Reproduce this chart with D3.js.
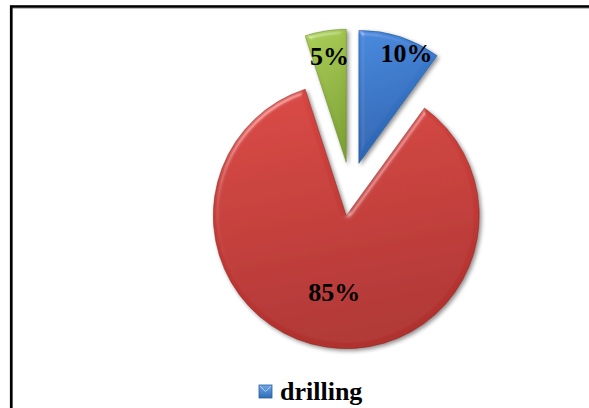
<!DOCTYPE html>
<html>
<head>
<meta charset="utf-8">
<script src="https://cdn.jsdelivr.net/npm/d3@7/dist/d3.min.js"></script>
<style>
  html, body { margin: 0; padding: 0; background: #fff; }
  svg { display: block; }
  .lbl { font-family: "Liberation Serif", "DejaVu Serif", serif; font-weight: bold; }
</style>
</head>
<body>
<script>
// Share of each activity, in percent (clockwise from 12 o'clock)
const sliceValues = [10, 85, 5];
const sliceLabels = ["10%", "85%", "5%"];
// Legend entries shown under the pie
const legendItems = ["drilling"];

const W = 589, H = 408;
const svg = d3.select("body").append("svg").attr("width", W).attr("height", H);
const defs = svg.append("defs");

// colour ramps (top light -> bottom dark) and rim colour for each slice
const ramps = [
  ["#4387dc", "#2b63b0", "#1d4a86"],
  ["#da4641", "#b0312e", "#7a2220"],
  ["#a9cc52", "#7ea233", "#5a7a22"]
];
ramps.forEach((r, i) => {
  const g = defs.append("linearGradient").attr("id", "grad" + i)
    .attr("x1", 0).attr("y1", 0).attr("x2", 0.2).attr("y2", 1);
  g.append("stop").attr("offset", "0%").attr("stop-color", r[0]);
  g.append("stop").attr("offset", "100%").attr("stop-color", r[1]);
});

// soft bevel + drop shadow
const f = defs.append("filter").attr("id", "bevel")
  .attr("x", "-20%").attr("y", "-20%").attr("width", "140%").attr("height", "140%");
f.append("feGaussianBlur").attr("in", "SourceAlpha").attr("stdDeviation", 2.5).attr("result", "blur");
const spec = f.append("feSpecularLighting").attr("in", "blur").attr("surfaceScale", 4)
  .attr("specularConstant", 0.6).attr("specularExponent", 22)
  .attr("lighting-color", "#ffffff").attr("result", "spec");
spec.append("feDistantLight").attr("azimuth", 235).attr("elevation", 30);
f.append("feComposite").attr("in", "spec").attr("in2", "SourceAlpha").attr("operator", "in").attr("result", "specIn");
f.append("feComposite").attr("in", "SourceGraphic").attr("in2", "specIn").attr("operator", "arithmetic")
  .attr("k1", 0).attr("k2", 1).attr("k3", 0.45).attr("k4", 0).attr("result", "lit");
f.append("feGaussianBlur").attr("in", "SourceAlpha").attr("stdDeviation", 2).attr("result", "sb");
f.append("feOffset").attr("in", "sb").attr("dx", 2).attr("dy", 2).attr("result", "so");
f.append("feComponentTransfer").attr("in", "so").attr("result", "shadow")
  .append("feFuncA").attr("type", "linear").attr("slope", 0.45);
const m = f.append("feMerge");
m.append("feMergeNode").attr("in", "shadow");
m.append("feMergeNode").attr("in", "lit");

// chart frame (runs past the right and bottom edges)
svg.append("rect").attr("x", 12.5).attr("y", 8.5).attr("width", 700).attr("height", 600)
  .attr("fill", "none").attr("stroke", "#bdbdbd").attr("stroke-width", 1);
svg.append("rect").attr("x", 11.2).attr("y", 6.5).attr("width", 700).attr("height", 600)
  .attr("fill", "none").attr("stroke", "#000").attr("stroke-width", 2.6);

// pie geometry
const cx = 350.5, cy = 189, R = 133, explode = 27;
const pie = d3.pie().sort(null).value(d => d)(sliceValues);
const arc = d3.arc().innerRadius(0).outerRadius(R);
const labelFrac = [0.87, 0.58, 0.81];
const mid = d => (d.startAngle + d.endAngle) / 2;

const g = svg.append("g").attr("transform", `translate(${cx},${cy})`);
const slices = g.selectAll("g.slice").data(pie).join("g")
  .attr("class", "slice")
  .attr("transform", d => `translate(${explode * Math.sin(mid(d))},${-explode * Math.cos(mid(d))})`);

slices.append("path")
  .attr("d", arc)
  .attr("fill", (d, i) => `url(#grad${i})`)
  .attr("stroke", (d, i) => ramps[i][2])
  .attr("stroke-opacity", 0.6)
  .attr("stroke-width", 0.8)
  .attr("filter", "url(#bevel)");

slices.append("text")
  .attr("class", "lbl")
  .attr("x", (d, i) => labelFrac[i] * R * Math.sin(mid(d)) + (i === 0 ? 12 : 0))
  .attr("y", (d, i) => -labelFrac[i] * R * Math.cos(mid(d)))
  .attr("dy", "0.35em")
  .attr("text-anchor", "middle")
  .attr("font-size", 26)
  .attr("fill", "#000")
  .text((d, i) => sliceLabels[i]);

// legend
const lg = svg.append("g").attr("transform", "translate(259,385)");
const lgGrad = defs.append("linearGradient").attr("id", "lgGrad").attr("x1", 0).attr("y1", 0).attr("x2", 0).attr("y2", 1);
lgGrad.append("stop").attr("offset", "0%").attr("stop-color", "#6fa6e6");
lgGrad.append("stop").attr("offset", "100%").attr("stop-color", "#2f6db8");
legendItems.forEach((name, i) => {
  const row = lg.append("g").attr("transform", `translate(0,${i * 30})`);
  row.append("rect").attr("width", 13).attr("height", 13)
    .attr("fill", "url(#lgGrad)").attr("stroke", "#2a5d9c").attr("stroke-width", 0.8);
  row.append("path").attr("d", "M1,1 L6.5,6.5 L12,1").attr("fill", "none")
    .attr("stroke", "#a9cdf5").attr("stroke-width", 1);
  row.append("text").attr("class", "lbl").attr("x", 21).attr("y", 15)
    .attr("font-size", 26).attr("fill", "#000")
    .text(name);
});
</script>
</body>
</html>
